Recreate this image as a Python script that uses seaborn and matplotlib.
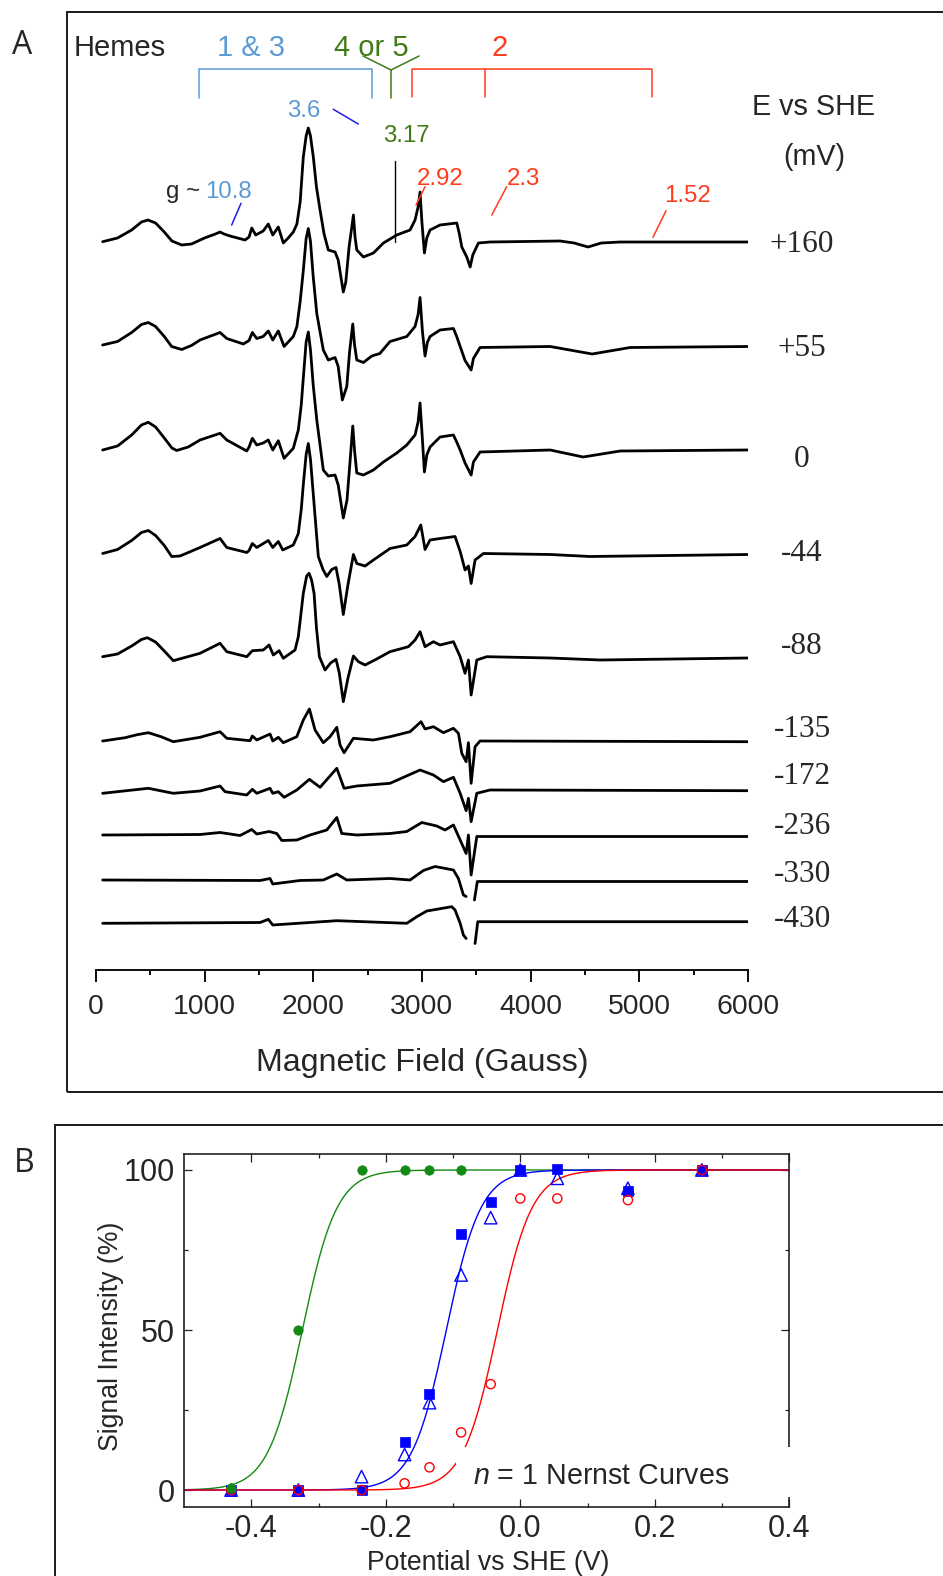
import matplotlib
matplotlib.use("Agg")
import matplotlib.pyplot as plt
from matplotlib.patches import Rectangle
import numpy as np
import seaborn as sns

# Stil ayarlari
sns.set_style("ticks")
plt.rcParams['font.family'] = ['Liberation Sans', 'DejaVu Sans']
plt.rcParams['axes.unicode_minus'] = False
plt.rcParams['mathtext.fontset'] = 'custom'
plt.rcParams['mathtext.it'] = 'Liberation Sans:italic'
plt.rcParams['mathtext.rm'] = 'Liberation Sans'

W, H = 943, 1576

# ---------------- Panel A: EPR spectra (field in Gauss, signal in plot units) ----------------
g160 = [63, 200, 330, 420, 480, 550, 630, 700, 790, 880, 1000, 1100, 1143, 1180, 1235, 1373, 1410,
        1435, 1471, 1540, 1587, 1628, 1679, 1725, 1770, 1817, 1850, 1880, 1909, 1935, 1955, 1975,
        2001, 2030, 2063, 2100, 2139, 2201, 2230, 2277, 2300, 2330, 2370, 2385, 2401, 2462, 2554,
        2646, 2769, 2891, 2937, 2965, 2983, 3000, 3023, 3045, 3075, 3167, 3321, 3345, 3367, 3413,
        3444, 3468, 3520, 3627, 4271, 4400, 4529, 4650, 4824, 6000]
s160 = [0.3, 4, 12, 20, 22, 19, 10, 1, -3, -2, 4, 8, 10, 8, 6, 2, 5,
        14, 7, 11, 18, 7, 15, -1, 4, 10, 18, 40, 85, 106, 114, 106,
        85, 55, 32, 8, -8, -10, -18, -50, -40, -5, 27, 5, -8, -15, -11,
        -1, 7, 12, 22, 35, 50, 20, -11, 4, 12, 17, 19, 8, -5, -15,
        -25, -13, -1, 0, 1, -1, -5, -1, 0, 0]

g55 = [63, 200, 330, 420, 483, 550, 630, 698, 790, 880, 959, 1143, 1205, 1357, 1410, 1440, 1481,
       1540, 1587, 1628, 1679, 1732, 1817, 1850, 1880, 1909, 1935, 1955, 1975, 2000, 2033, 2093,
       2139, 2201, 2230, 2268, 2309, 2335, 2364, 2380, 2401, 2462, 2539, 2613, 2707, 2861, 2937,
       2965, 2983, 3005, 3029, 3050, 3075, 3167, 3290, 3320, 3352, 3397, 3453, 3474, 3535, 4180,
       4566, 4916, 6000]
s55 = [1.5, 5, 14, 22, 24, 20, 10, 0, -3, 1, 6.5, 14, 8, 2.5, 6, 14, 8,
       10, 15.5, 6.5, 15.5, 0, 10, 20, 45, 76, 108, 118, 105, 70, 33, -3.5,
       -13.5, -11, -20, -53.5, -40, -5, 22.5, 2, -13.5, -16, -9.5, -7, 5, 10, 20,
       32, 49, 15, -9.5, 4, 10, 16.5, 18, 10, 0, -14, -23.5, -12, -1, 0,
       -7.5, -1, 0]

g0 = [63, 200, 330, 420, 483, 550, 630, 700, 744, 850, 959, 1143, 1205, 1389, 1410, 1440, 1481,
      1540, 1587, 1628, 1679, 1732, 1817, 1863, 1890, 1909, 1935, 1955, 1975, 2000, 2033, 2093,
      2139, 2201, 2230, 2277, 2311, 2340, 2364, 2380, 2401, 2462, 2554, 2646, 2769, 2861, 2937,
      2965, 2983, 3005, 3023, 3045, 3075, 3167, 3290, 3320, 3352, 3397, 3453, 3474, 3535, 4180,
      4483, 4824, 6000]
s0 = [0, 4, 15, 25, 27.7, 23, 12, 2, -0.5, 3, 10, 16.7, 10, -1, 3, 11.7, 5,
      7, 10, 0, 9.3, -8.3, 1.7, 20, 45, 72, 108, 118, 100, 65, 30, -20,
      -26, -25, -35, -68, -50, -10, 24, 0, -23, -25, -20, -12, -3, 5, 15,
      28, 47, 10, -22, -5, 3, 13, 15, 8, 0, -13, -25, -12, -2, 0,
      -7, -1, 0]

g44 = [63, 200, 330, 420, 483, 550, 630, 698, 775, 959, 1143, 1205, 1389, 1410, 1440, 1481, 1587,
       1628, 1679, 1720, 1817, 1863, 1890, 1909, 1935, 1955, 1975, 2001, 2047, 2090, 2125, 2170,
       2210, 2240, 2277, 2320, 2370, 2401, 2477, 2554, 2707, 2861, 2937, 2990, 3029, 3075, 3167,
       3305, 3352, 3397, 3428, 3453, 3489, 3566, 4180, 4548, 6000]
s44 = [1, 5, 14, 22, 24, 19, 9, -2, -1.5, 7, 16, 7, 2, 4, 11, 7, 14,
       7, 13, 4.5, 9.5, 21, 45, 70, 100, 111, 95, 60, -2, -15, -22, -15,
       -13, -30, -60, -30, 0, -9, -11.5, -5.5, 6, 9.5, 18, 29.5, 5, 14.5, 16,
       18, 3, -15.5, -11.5, -29, -5.5, 1, 0, -2, 0]

g88 = [63, 200, 330, 420, 474, 550, 630, 713, 959, 1143, 1205, 1389, 1440, 1541, 1594, 1633, 1686,
       1725, 1833, 1863, 1885, 1909, 1940, 1962, 1985, 2008, 2030, 2057, 2109, 2160, 2210, 2240,
       2277, 2320, 2370, 2416, 2477, 2567, 2707, 2876, 2937, 2983, 3029, 3106, 3167, 3290, 3352,
       3397, 3428, 3453, 3505, 3597, 4180, 4640, 6000]
s88 = [1.3, 4, 12, 18.5, 20.3, 16, 7, -2.7, 4.7, 14.7, 6.3, 1.3, 7.3, 8, 13, 3, 7.3,
       -0.3, 8, 21.3, 42, 64.7, 82, 84.7, 78, 64.7, 30, 1.3, -12, -5, -1.3, -15,
       -43.7, -20, 2, -3.7, -7, -2, 6.3, 11.3, 18, 26.3, 11.3, 16.3, 13, 16.3, 1.3,
       -15.3, -2, -37, -2, 1.3, 0, -2, 0]

g135 = [63, 270, 380, 483, 600, 713, 959, 1143, 1205, 1419, 1440, 1481, 1603, 1628, 1679, 1725, 1849,
        1909, 1965, 2017, 2093, 2155, 2217, 2247, 2284, 2370, 2554, 2707, 2891, 2992, 3029, 3106,
        3198, 3290, 3336, 3367, 3407, 3428, 3453, 3489, 3535, 6000]
s135 = [0.7, 4, 7, 9, 5, 0, 4.4, 10, 3.4, 1, 5.7, 1.7, 7.7, 0.7, 4.4, -1, 5,
        21.7, 32.7, 11.7, -1, 5, 14.4, -3.3, -11, 3.4, 1.7, 5, 10, 20, 12.7, 15,
        9, 13.4, 8.4, -11.6, -20, -1, -41.6, -5, 0.7, 0]

g172 = [63, 483, 713, 959, 1143, 1189, 1389, 1440, 1481, 1603, 1628, 1679, 1732, 1849, 1965, 2063,
        2217, 2284, 2401, 2707, 2983, 3106, 3198, 3290, 3352, 3407, 3428, 3453, 3505, 3627, 6000]
s172 = [-1.8, 3.2, -1.8, 0.5, 5.5, -0.2, -3.5, 2.2, -1.8, 3.2, -1.8, -0.2, -5.8, 1.5, 12.2, 4.2,
        23.2, 3.2, 5.5, 8.2, 21.5, 16.5, 9.8, 14.2, -1.8, -19.2, -6.8, -30.2, -1.8, 1.5, 0.8]

g236 = [63, 959, 1143, 1327, 1435, 1481, 1594, 1665, 1711, 1849, 1971, 2125, 2217, 2263, 2401,
        2707, 2861, 2999, 3137, 3213, 3290, 3352, 3407, 3428, 3453, 3505, 6000]
s236 = [0.5, 1, 3, 0, 6, 1.5, 4, 2, -5, -4.5, 0.5, 5.5, 18, 2, 0.5,
        2, 4, 13, 9.5, 5.5, 10.5, -4.5, -18, 0.5, -39.5, -1, -1]

g330 = [63, 1511, 1603, 1628, 1879, 2093, 2217, 2309, 2707, 2891, 3014, 3121, 3290, 3336, 3382,
        3407, np.nan, 3483, 3510, 6000]
s330 = [0.5, 0, 2, -3.5, 0, 0.5, 6.5, 0.5, 2, 0.5, 10, 14, 10.5, 2, -14.5,
        -16, np.nan, -19.5, -1, -1]

g430 = [63, 1511, 1587, 1628, 2217, 2861, 2953, 3045, 3275, 3305, 3352, 3382, 3407, np.nan,
        3489, 3514, 6000]
s430 = [-0.8, 0, 3.2, -2.5, 1.8, -0.8, 5.8, 11.5, 15.8, 12.5, -0.8, -12.5, -16, np.nan,
        -21, 0.8, 0.8]

potential_labels = ['+160', '+55', '0', '-44', '-88', '-135', '-172', '-236', '-330', '-430']
trace_offsets = [728, 623.5, 520, 415.5, 312, 228.3, 178.5, 134.5, 89.5, 47.5]
label_baselines = [717.7, 614.4, 502.7, 409.4, 316.1, 232.7, 186.1, 136.1, 87.7, 42.7]

field_ticks = [0, 1000, 2000, 3000, 4000, 5000, 6000]

# ---------------- Panel B: redox titration ----------------
potential_v = [-0.430, -0.330, -0.236, -0.172, -0.135, -0.088, -0.044, 0.0, 0.055, 0.160, 0.270]
heme2_green = [0.6, 50, 100, 100, 100, 100]            # first six potentials
heme13_square = [0, 0, 0, 15.1, 30, 80, 90.1, 100, 100.2, 93.5, 100]
heme13_triangle = [0, 0, 4.2, 11.1, 27.3, 67.2, 85.1, 100, 97.4, 94.3, 100]
heme2_circle = [0, 0, 0, 2.1, 7.1, 18, 33.1, 91.1, 91.1, 90.6, 100]
midpoints_v = {'green': -0.324, 'blue': -0.110, 'red': -0.034}
F_RT = 38.92  # n = 1, 25 C

b_xticks = [-0.4, -0.2, 0.0, 0.2, 0.4]
b_yticks = [0, 50, 100]

C_LBLUE = '#5b9bd5'
C_GREEN = '#417b17'
C_RED = '#ff3b1c'
C_BLUE = '#1f1fe6'


def frac_rect(left, top, right, bottom):
    return [left / W, (H - bottom) / H, (right - left) / W, (bottom - top) / H]


def draw_trace(ax, field, signal, offset):
    f = np.asarray(field, float)
    s = np.asarray(signal, float) + offset
    breaks = np.where(np.isnan(f))[0]
    for seg in np.split(np.arange(len(f)), breaks):
        seg = seg[~np.isnan(f[seg])]
        sns.lineplot(x=f[seg], y=s[seg], ax=ax, color='black', lw=2.0,
                     estimator=None, sort=False, legend=False)


fig = plt.figure(figsize=(W / 100, H / 100), dpi=100)

# panel frames
fig.add_artist(Rectangle((66.7 / W, (H - 1092) / H), (990 - 66.7) / W, (1092 - 11.7) / H,
                         transform=fig.transFigure, fill=False, lw=1.4, ec='#1a1a1a'))
fig.add_artist(Rectangle((55 / W, (H - 1700) / H), (990 - 55) / W, (1700 - 1125) / H,
                         transform=fig.transFigure, fill=False, lw=1.4, ec='#1a1a1a'))
fig.text(22.5 / W, 1 - 46 / H, 'A', fontsize=23, family='Open Sans', ha='center', va='center')
fig.text(24 / W, 1 - 1163 / H, 'B', fontsize=23, family='Open Sans', ha='center', va='center')

# ---------------- Panel A ----------------
axA = fig.add_axes(frac_rect(95.8, 10, 748, 970))
axA.set_facecolor('none')
traces = [(g160, s160), (g55, s55), (g0, s0), (g44, s44), (g88, s88),
          (g135, s135), (g172, s172), (g236, s236), (g330, s330), (g430, s430)]
for (gf, sg), off in zip(traces, trace_offsets):
    draw_trace(axA, gf, sg, off)

axA.set_xlim(0, 6000)
axA.set_ylim(0, 960)
axA.set_yticks([])
axA.set_ylabel('')
for side in ['left', 'right', 'top']:
    axA.spines[side].set_visible(False)
axA.spines['bottom'].set_linewidth(1.44)
axA.spines['bottom'].set_color('#111111')
axA.set_xticks(field_ticks)
axA.set_xticklabels([str(t) for t in field_ticks])
axA.set_xticks([500, 1500, 2500, 3500, 4500, 5500], minor=True)
axA.tick_params(axis='x', which='major', direction='out', length=8.4, width=1.44,
                labelsize=20.4, pad=8.8, color='#111111')
axA.tick_params(axis='x', which='minor', direction='out', length=3.6, width=1.44, color='#111111')
axA.set_xlabel('Magnetic Field (Gauss)', fontsize=23.1)
axA.xaxis.set_label_coords(0.501, -0.0812)

for lab, yb in zip(potential_labels, label_baselines):
    axA.text(6497, yb, lab, fontsize=22.5, family='Liberation Serif', ha='center', va='baseline')
axA.text(6600, 854.7, 'E vs SHE', fontsize=20.7, ha='center', va='baseline')
axA.text(6609, 805.2, '(mV)', fontsize=20.7, ha='center', va='baseline')

# heme group headers and brackets
axA.text(223, 913.6, 'Hemes', fontsize=21, ha='center', va='baseline')
axA.text(1428, 913.6, '1 & 3', fontsize=21, ha='center', va='baseline', color=C_LBLUE)
axA.text(2532, 913.6, '4 or 5', fontsize=21, ha='center', va='baseline', color=C_GREEN)
axA.text(3719, 913.6, '2', fontsize=21, ha='center', va='baseline', color=C_RED)
axA.plot([950, 950, 2541, 2541], [871.7, 900.7, 900.7, 871.7], color=C_LBLUE, lw=1.1, clip_on=False)
axA.plot([2459, 2716, 2974], [914, 900, 914], color=C_GREEN, lw=1.1, clip_on=False)
axA.plot([2716, 2716], [900, 871.7], color=C_GREEN, lw=1.1, clip_on=False)
axA.plot([2909, 2909, 5118, 5118], [872.7, 901, 901, 872.7], color=C_RED, lw=1.1, clip_on=False)
axA.plot([3579, 3579], [901, 872.7], color=C_RED, lw=1.1, clip_on=False)

# g-value markers
axA.text(1909, 853.1, '3.6', fontsize=17.3, ha='center', va='baseline', color=C_LBLUE)
axA.plot([2185, 2415], [860.7, 846], color=C_BLUE, lw=1.1)
axA.text(2854, 828.1, '3.17', fontsize=17.3, ha='center', va='baseline', color=C_GREEN)
axA.plot([2753, 2753], [809.3, 728.3], color='black', lw=1.0)
axA.text(3164, 785.4, '2.92', fontsize=17.3, ha='center', va='baseline', color=C_RED)
axA.plot([3029, 2946], [783.3, 765], color=C_RED, lw=1.1)
axA.text(3930, 785.4, '2.3', fontsize=17.3, ha='center', va='baseline', color=C_RED)
axA.plot([3780, 3643], [783.3, 755], color=C_RED, lw=1.1)
axA.text(959, 772.1, 'g ~', fontsize=17.3, ha='right', va='baseline')
axA.text(1005, 772.1, '10.8', fontsize=17.3, ha='left', va='baseline', color=C_LBLUE)
axA.plot([1336, 1250], [766.7, 745], color=C_BLUE, lw=1.1)
axA.text(5444, 768.1, '1.52', fontsize=17.3, ha='center', va='baseline', color=C_RED)
axA.plot([5246, 5126], [759.3, 732.7], color=C_RED, lw=1.1)

# ---------------- Panel B ----------------
axB = fig.add_axes(frac_rect(184, 1154.3, 789.3, 1506.7))
axB.set_facecolor('none')
E = np.linspace(-0.5, 0.4, 600)
for name, col in [('green', '#138a13'), ('blue', '#0000ff'), ('red', '#ff0000')]:
    nernst = 100.0 / (1.0 + np.exp(-(E - midpoints_v[name]) * F_RT))
    sns.lineplot(x=E, y=nernst, ax=axB, color=col, lw=1.0, estimator=None, sort=False, legend=False)

sns.scatterplot(x=potential_v, y=heme13_square, ax=axB, marker='s', s=45, color='#0000ff',
                edgecolor='#0000ff', linewidth=0.5, zorder=2.2, legend=False)
sns.scatterplot(x=potential_v, y=heme13_triangle, ax=axB, marker='^', s=80, facecolors='none',
                edgecolor='#0000ff', linewidth=1.0, zorder=2.3, legend=False)
sns.scatterplot(x=potential_v, y=heme2_circle, ax=axB, marker='o', s=44, facecolors='none',
                edgecolor='#ff0000', linewidth=1.0, zorder=2.4, legend=False)
sns.scatterplot(x=potential_v[:len(heme2_green)], y=heme2_green, ax=axB, marker='o', s=46,
                color='#138a13', edgecolor='#138a13', linewidth=0.5, zorder=2.5, legend=False)

axB.set_xlim(-0.5, 0.4)
axB.set_ylim(-5.2, 104.9)
axB.set_xticks(b_xticks)
axB.set_xticklabels([f'{v:.1f}' for v in b_xticks])
axB.set_xticks([-0.3, -0.1, 0.1, 0.3], minor=True)
axB.set_yticks(b_yticks)
axB.set_yticklabels([str(v) for v in b_yticks])
axB.set_yticks([25, 75], minor=True)
axB.tick_params(which='both', direction='in', top=True, right=True, width=0.9, color='#222222')
axB.tick_params(which='major', length=5.8)
axB.tick_params(which='minor', length=2.9)
axB.tick_params(axis='x', which='major', labelsize=22, pad=5.3)
axB.tick_params(axis='y', which='major', labelsize=22, pad=6.5)
for sp in axB.spines.values():
    sp.set_linewidth(1.2)
    sp.set_color('#222222')
axB.set_xlabel('Potential vs SHE (V)', fontsize=19.2)
axB.xaxis.set_label_coords(0.5027, -0.124)
axB.set_ylabel('Signal Intensity (%)', fontsize=19.2)
axB.yaxis.set_label_coords(-0.0983, 0.4824)

# white box behind the caption (covers curves and the right spine)
axB.add_patch(Rectangle((-0.0958, -2.2), 0.55, 15.7, fc='white', ec='none', zorder=3, clip_on=False))
axB.text(-0.070, 2.03, r'$\mathit{n}$ = 1 Nernst Curves', fontsize=20.6, ha='left', va='baseline',
         zorder=4)

fig.savefig('out.png', dpi=100)
